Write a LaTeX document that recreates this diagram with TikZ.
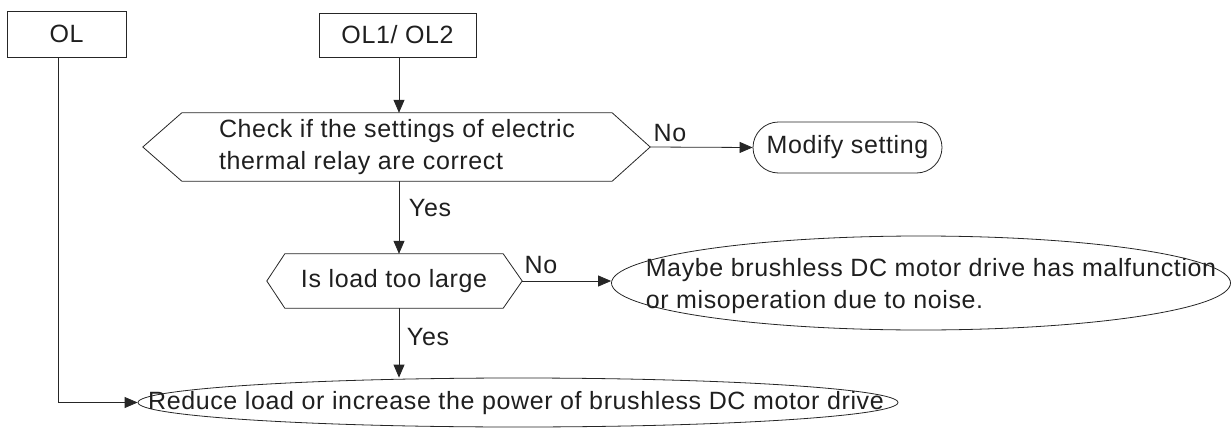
\documentclass[tikz,border=0pt]{standalone}
\usepackage{fontspec}
\setmainfont{Liberation Sans}[LetterSpace=2.5]
\usetikzlibrary{shapes.misc,shapes.geometric,arrows.meta}
\begin{document}
\begin{tikzpicture}[x=1pt,y=-1pt,
  every node/.style={font=\fontsize{25}{31.5}\selectfont, inner sep=0pt, text=black!88},
  boxnode/.style={draw, line width=0.8pt, draw=black!85},
  ln/.style={line width=0.8pt, draw=black!85},
  arr/.style={ln, -{Triangle[length=13pt,width=11pt]}},
  ell/.style={draw, ln, ellipse, inner sep=0pt},
  lbl/.style={anchor=center}]
\useasboundingbox (0,0) rectangle (1232,428);
% start boxes
\node[boxnode, minimum width=119pt, minimum height=46pt] (ol) at (66.5,34) {OL};
\node[boxnode, minimum width=157pt, minimum height=44pt] (ol1) at (397.5,35) {OL1/ OL2};
% decision 1
\node[minimum width=430pt, minimum height=68pt, align=left] (d1) at (397,147)
  {Check if the settings of electric\\thermal relay are correct};
\coordinate (d1e) at ([xshift=38pt]d1.east);
\coordinate (d1w) at ([xshift=-39pt]d1.west);
\draw[ln] (d1.north west) -- (d1.north east) -- (d1e) -- (d1.south east) -- (d1.south west) -- (d1w) -- cycle;
% modify
\node[draw, ln, rounded rectangle, minimum width=189pt, minimum height=51pt] (mod) at (847.5,147.5) {};
\node (modt) at (mod.center) {Modify setting};
% decision 2
\node[minimum width=218pt, minimum height=54pt] (d2) at (394,281) {Is load too large};
\coordinate (d2e) at ([xshift=19pt]d2.east);
\coordinate (d2w) at ([xshift=-18pt]d2.west);
\draw[ln] (d2.north west) -- (d2.north east) -- (d2e) -- (d2.south east) -- (d2.south west) -- (d2w) -- cycle;
% malfunction ellipse
\node[ell, minimum width=619pt, minimum height=94pt] (mal) at (921,283) {};
\node[align=left] (malt) at (931,286)
  {Maybe brushless DC motor drive has malfunction\\or misoperation due to noise.};
% reduce ellipse
\node[ell, minimum width=760pt, minimum height=49pt] (red) at (518,402.5) {};
\node (redt) at (516,403) {Reduce load or increase the power of brushless DC motor drive};
% connectors
\coordinate (vx) at (399,0);
\draw[arr] (vx |- ol1.south) -- (vx |- d1.north);
\draw[arr] (d1e) -- (mod.west);
\draw[arr] (vx |- d1.south) -- (vx |- d2.north);
\draw[arr] (d2e) -- (d2e -| mal.west);
\draw[arr] (vx |- d2.south) -- (vx |- red.north);
\draw[arr] ([xshift=-8.5pt]ol.south) |- (red.west);
% labels
\node[lbl] (no1) at (670,133) {No};
\node[lbl] (yes1) at (430,208) {Yes};
\node[lbl] (no2) at (541,265) {No};
\node[lbl] (yes2) at (428,337) {Yes};
\end{tikzpicture}
\end{document}
